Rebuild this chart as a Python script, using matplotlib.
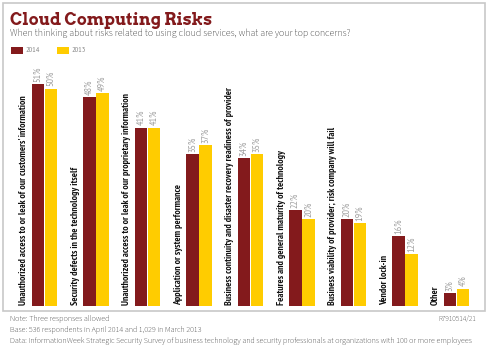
import numpy as np
import matplotlib
matplotlib.use("Agg")
import matplotlib.pyplot as plt
from matplotlib.patches import Rectangle

# data
categories = [
    "Unauthorized access to or leak of our customers' information",
    "Security defects in the technology itself",
    "Unauthorized access to or leak of our proprietary information",
    "Application or system performance",
    "Business continuity and disaster recovery readiness of provider",
    "Features and general maturity of technology",
    "Business viability of provider; risk company will fail",
    "Vendor lock-in",
    "Other",
]
series_names = ["2014", "2013"]
vals_2014 = [51, 48, 41, 35, 34, 22, 20, 16, 3]
vals_2013 = [50, 49, 41, 37, 35, 20, 19, 12, 4]

red = "#831a1c"
yellow = "#ffcc00"
narrow = ["PT Sans Narrow", "DejaVu Sans"]
body = ["Source Sans 3", "DejaVu Sans"]
W, H = 489, 345

fig = plt.figure(figsize=(W / 100, H / 100), dpi=100)
fig.patch.set_facecolor("white")

# outer light border
fig.add_artist(Rectangle((3 / W, 1 - 311 / H), 482 / W, 308 / H, transform=fig.transFigure,
                         fill=False, ec="#c8c8c8", lw=1.2))

# axes placed by pixel: baseline y=306, top y=62
ax = fig.add_axes([10 / W, 1 - 306 / H, 470 / W, 244 / H])
ax.set_ylim(0, 244 / 4.35)
x0 = (10 - 44.3) / 51.5
x1 = (480 - 44.3) / 51.5
ax.set_xlim(x0, x1)
ax.axis("off")

x = np.arange(len(categories))
bw = 0.245
ax.bar(x - 0.125, vals_2014, width=bw, color=red, label=series_names[0])
ax.bar(x + 0.13, vals_2013, width=bw, color=yellow, label=series_names[1])

for i, (a, b) in enumerate(zip(vals_2014, vals_2013)):
    ax.text(i - 0.125, a + 0.5, f"{a}%", rotation=90, ha="center", va="bottom",
            fontsize=7.2, color="#a0a0a0", family=narrow)
    ax.text(i + 0.13, b + 0.5, f"{b}%", rotation=90, ha="center", va="bottom",
            fontsize=7.2, color="#a0a0a0", family=narrow)
    ax.text(i - 0.40, 0.2, categories[i], rotation=90, ha="center", va="bottom",
            fontsize=7, fontweight="bold", color="#111111", family=narrow)

# title and subtitle
fig.text(10 / W, 1 - 25 / H, "Cloud Computing Risks", fontsize=11.8, fontweight="bold",
         color=red, family=["Arvo", "DejaVu Serif"], va="baseline")
fig.text(10 / W, 1 - 36.5 / H, "When thinking about risks related to using cloud services, what are your top concerns?",
         fontsize=7.1, color="#1a1a1a", family=body, va="baseline")

# legend
leg_x = [11, 57]
for lx, name, c in zip(leg_x, series_names, [red, yellow]):
    fig.add_artist(Rectangle((lx / W, 1 - 54 / H), 12 / W, 7 / H, transform=fig.transFigure,
                             color=c, lw=0))
    fig.text((lx + 15) / W, 1 - 50.5 / H, name, fontsize=5.8, color="#888888",
             family=narrow, va="center")

# notes
notes = [
    "Note: Three responses allowed",
    "Base: 536 respondents in April 2014 and 1,029 in March 2013",
    "Data: InformationWeek Strategic Security Survey of business technology and security professionals at organizations with 100 or more employees",
]
for k, t in enumerate(notes):
    fig.text(10 / W, 1 - (321 + 11 * k) / H, t, fontsize=5.85, color="#222222",
             family=body, va="baseline")
fig.text(476 / W, 1 - 321 / H, "R7910514/21", fontsize=5.3, color="#222222",
         family=body, va="baseline", ha="right")

fig.savefig("out.png", dpi=100, facecolor="white")
